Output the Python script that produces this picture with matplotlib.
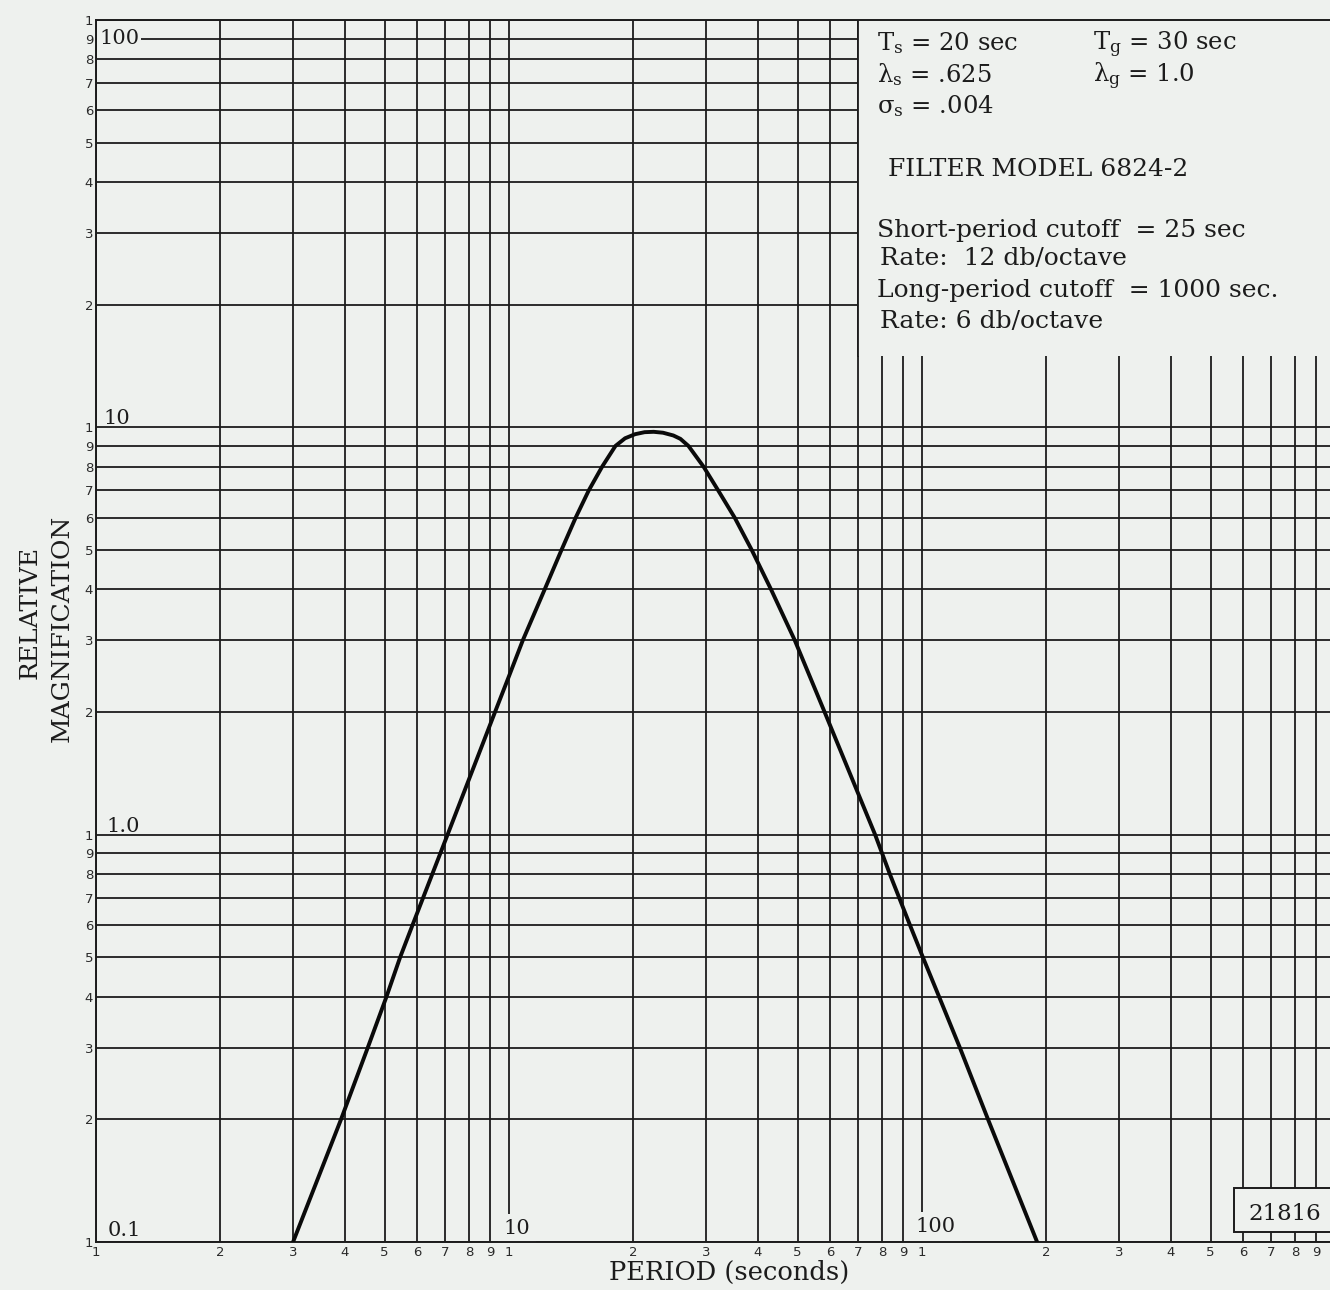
import matplotlib
matplotlib.use("Agg")
import matplotlib.pyplot as plt
from matplotlib.patches import Rectangle
from matplotlib.ticker import FixedLocator, FixedFormatter, NullLocator

# ---------------- data ----------------
period = [3.0, 3.92, 4.55, 5.05, 5.45, 5.84, 7.1, 9.25, 10.0, 10.8, 12.2, 13.4,
          14.5, 15.6, 16.8, 18.1, 19.1, 20.2, 21.3, 22.4, 23.6, 25.0, 26.0,
          27.2, 29.6, 32.1, 35.2, 38.7, 43.1, 49.2, 58.1, 77.0, 83.6, 93.5,
          100.5, 110.0, 123.5, 144.5, 190.0]
magnification = [0.1, 0.2, 0.3, 0.4, 0.5, 0.6, 1.0, 2.0, 2.45, 3.0, 4.0, 5.0,
                 6.0, 7.0, 8.0, 9.0, 9.4, 9.62, 9.73, 9.75, 9.7, 9.55, 9.37,
                 9.0, 8.0, 7.0, 6.0, 5.0, 4.0, 3.0, 2.0, 1.0, 0.8, 0.6,
                 0.5, 0.4, 0.3, 0.2, 0.1]

x_decades = [1, 10, 100]
y_decades = [0.1, 1, 10]
sub_digits = [1, 2, 3, 4, 5, 6, 7, 8, 9]

x_ticks = [d * m for d in x_decades for m in sub_digits]
x_tick_labels = [str(m) for d in x_decades for m in sub_digits]
y_ticks = [d * m for d in y_decades for m in sub_digits] + [100]
y_tick_labels = [str(m) for d in y_decades for m in sub_digits] + ["1"]

y_decade_text = ["100", "10", "1.0", "0.1"]
x_decade_text = ["10", "100"]

x_label = "PERIOD (seconds)"
y_label_lines = ["RELATIVE", "MAGNIFICATION"]

info_col1 = [r"$\mathregular{T_s}$ = 20 sec",
             r"$\mathregular{\lambda_s}$ = .625",
             r"$\mathregular{\sigma_s}$ = .004"]
info_col2 = [r"$\mathregular{T_g}$ = 30 sec",
             r"$\mathregular{\lambda_g}$ = 1.0"]
filter_title = "FILTER MODEL 6824-2"
filter_lines = ["Short-period cutoff  = 25 sec",
                "Rate:  12 db/octave",
                "Long-period cutoff  = 1000 sec.",
                "Rate: 6 db/octave"]
plate_number = "21816"

# ---------------- layout ----------------
W, H = 1330, 1290
bg = "#eef1ee"
ink = "#1c1c1c"
plt.rcParams["mathtext.fontset"] = "dejavuserif"
serif = "DejaVu Serif"

fig = plt.figure(figsize=(W / 100, H / 100), dpi=100)
fig.patch.set_facecolor(bg)

L, R, B, T = 96, 1335, 1242, 20
ax = fig.add_axes([L / W, 1 - B / H, (R - L) / W, (B - T) / H])
ax.set_facecolor(bg)
ax.set_xscale("log")
ax.set_yscale("log")
ax.set_xlim(1, 1000)
ax.set_ylim(0.1, 100)

ax.xaxis.set_major_locator(FixedLocator(x_ticks))
ax.xaxis.set_major_formatter(FixedFormatter(x_tick_labels))
ax.yaxis.set_major_locator(FixedLocator(y_ticks))
ax.yaxis.set_major_formatter(FixedFormatter(y_tick_labels))
ax.xaxis.set_minor_locator(NullLocator())
ax.yaxis.set_minor_locator(NullLocator())
ax.tick_params(length=0, labelsize=9.5, labelcolor="#2a2a2a")
ax.tick_params(axis="x", pad=3)
ax.tick_params(axis="y", pad=2)
ax.grid(True, which="major", color=ink, lw=1.3)
ax.set_axisbelow("line")
for s in ax.spines.values():
    s.set_color(ink)
    s.set_linewidth(1.4)

# blank area for the legend text (covers the grid)
ax.add_patch(Rectangle((70, 15), 1000 - 70, 100 - 15, facecolor=bg,
                       edgecolor="none", zorder=1.8))
ax.plot([70, 70], [15, 100], color=ink, lw=1.3, zorder=1.9)

# plate number box
ax.add_patch(Rectangle((569, 0.1057), 1000 - 569, 0.136 - 0.1057,
                       facecolor=bg, edgecolor=ink, lw=1.4, zorder=2.1,
                       clip_on=True))

# the response curve
ax.plot(period, magnification, color="#0a0a0a", lw=2.8, zorder=3,
        solid_joinstyle="round")


def ftxt(px, py, s, **kw):
    kw.setdefault("family", serif)
    kw.setdefault("color", ink)
    return ax.text(px / W, 1 - py / H, s, transform=fig.transFigure,
                   clip_on=False, **kw)


# decade labels on the left inside the grid
ftxt(99, 39, y_decade_text[0], fontsize=15, va="center", ha="left",
     bbox=dict(facecolor=bg, edgecolor="none", pad=1.5), zorder=2.2)
ftxt(103, 419, y_decade_text[1], fontsize=15, va="center", ha="left",
     zorder=2.2)
ftxt(106, 826, y_decade_text[2], fontsize=15, va="center", ha="left",
     zorder=2.2)
ftxt(108, 1231, y_decade_text[3], fontsize=15, va="center", ha="left",
     zorder=2.2)
# decade labels along the bottom
ftxt(517, 1229, x_decade_text[0], fontsize=15, va="center", ha="center",
     bbox=dict(facecolor=bg, edgecolor="none", pad=4), zorder=2.2)
ftxt(936, 1227, x_decade_text[1], fontsize=15, va="center", ha="center",
     bbox=dict(facecolor=bg, edgecolor="none", pad=4), zorder=2.2)

# axis titles
ftxt(729, 1272, x_label, fontsize=18.5, ha="center", va="center")
ftxt(30, 612, y_label_lines[0], fontsize=18, ha="center", va="center",
     rotation=90)
ftxt(62, 628, y_label_lines[1], fontsize=18, ha="center", va="center",
     rotation=90)

# legend text
for s, yb in zip(info_col1, [50, 82, 113]):
    ftxt(877, yb, s, fontsize=17.5, ha="left", va="baseline", zorder=4)
for s, yb in zip(info_col2, [50, 82]):
    ftxt(1093, yb, s, fontsize=17.5, ha="left", va="baseline", zorder=4)
ftxt(888, 176, filter_title, fontsize=18, ha="left", va="baseline", zorder=4)
for s, xb, yb in zip(filter_lines, [877, 880, 877, 880], [237, 265, 297, 328]):
    ftxt(xb, yb, s, fontsize=18, ha="left", va="baseline", zorder=4)

ftxt(1248, 1220, plate_number, fontsize=16.5, ha="left", va="baseline",
     zorder=4)

fig.savefig("out.png", dpi=100, facecolor=bg)
